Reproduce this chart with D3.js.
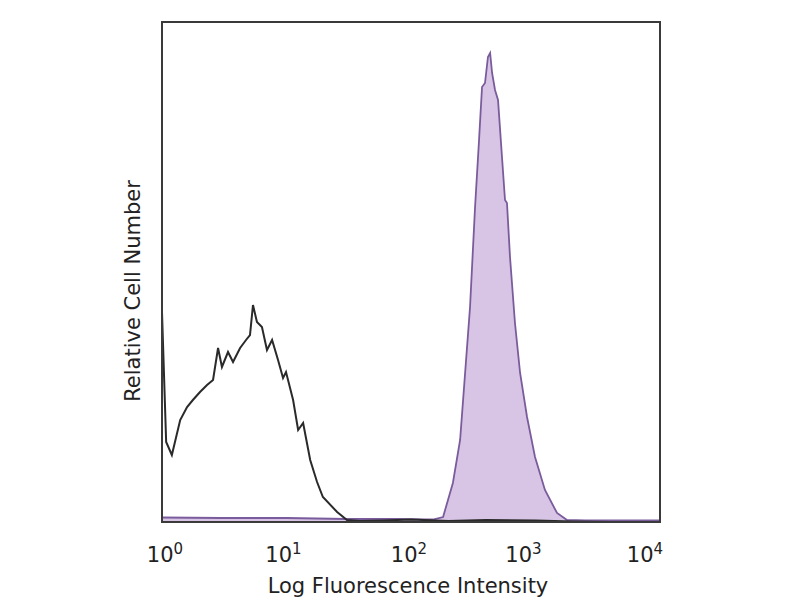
<!DOCTYPE html>
<html><head><meta charset="utf-8">
<script src="https://cdn.jsdelivr.net/npm/d3@7"></script>
<style>body{margin:0;background:#fff}</style>
</head><body><svg id="c" width="800" height="600"></svg>
<script>
// Isotype control histogram (black outline)
const controlIntensity = [1, 1.08, 1.20, 1.40, 1.59, 1.77, 2.02, 2.30, 2.57, 2.82, 3.03, 3.39, 3.72, 4.24, 4.73, 5.09, 5.38, 5.79, 6.35, 6.97, 7.66, 8.55, 9.38, 9.91, 11.3, 12.4, 13.6, 15.5, 17.6, 19.6, 25.5, 30.6, 38.9, 60, 100, 200, 400, 1000, 2000, 4000, 10000];
const controlCount     = [42, 16, 13.4, 20.4, 23, 24.4, 26, 27.4, 28.4, 34.8, 31, 34, 32, 34.8, 36.4, 37.4, 43.4, 40, 39, 34.4, 36.4, 32.4, 28.8, 30, 24.4, 18.4, 19.8, 12.4, 8, 5, 2, 0.4, 0.2, 0.3, 0.5, 0.2, 0.4, 0.3, 0.1, 0, 0];
// Stained histogram (filled purple)
const stainedIntensity = [1, 3, 10, 30, 80, 130, 150, 181, 217, 248, 272, 298, 327, 352, 372, 393, 415, 432, 448, 473, 500, 538, 569, 590, 624, 684, 752, 855, 991, 1191, 1489, 1791, 2500, 5000, 10000];
const stainedCount     = [0.9, 0.8, 0.8, 0.6, 0.6, 0.5, 0.5, 1, 7.8, 16.4, 29.8, 43, 63, 76.4, 87, 87.8, 93, 93.8, 89.8, 86.4, 84.4, 73, 64.4, 63.8, 53, 39.8, 29.8, 21, 13, 6.4, 1.8, 0.4, 0.3, 0.3, 0.3];
const tickExponents = [0, 1, 2, 3, 4];
const xTitle = "Log Fluorescence Intensity";
const yTitle = "Relative Cell Number";

const svg = d3.select("#c");
const L = 162, R = 660, T = 22, B = 522;
const x = d3.scaleLog().domain([1, 1e4]).range([L, R]);
const y = d3.scaleLinear().domain([0, 100]).range([B, T]);

const stained = stainedIntensity.map((v, i) => [v, stainedCount[i]]);
const control = controlIntensity.map((v, i) => [v, controlCount[i]]);

svg.append("path")
  .datum(stained)
  .attr("d", d3.area().x(d => x(d[0])).y0(B).y1(d => y(d[1])))
  .attr("fill", "#d8c5e5");
svg.append("path")
  .datum(stained)
  .attr("d", d3.line().x(d => x(d[0])).y(d => y(d[1])))
  .attr("fill", "none").attr("stroke", "#7a5c9c").attr("stroke-width", 1.8);
svg.append("path")
  .datum([[1, 0]].concat(control))
  .attr("d", d3.line().x(d => x(d[0])).y(d => y(d[1])))
  .attr("fill", "none").attr("stroke", "#2a2a2a").attr("stroke-width", 2);

svg.append("rect").attr("x", L).attr("y", T).attr("width", R - L).attr("height", B - T)
  .attr("fill", "none").attr("stroke", "#3a3a3a").attr("stroke-width", 2);

const font = "'DejaVu Sans', sans-serif";
const labelShift = [3, -3, -2, -12, -15];
tickExponents.forEach((e, i) => {
  const t = svg.append("text")
    .attr("x", x(Math.pow(10, e)) + labelShift[i])
    .attr("y", 562)
    .attr("text-anchor", "middle")
    .attr("font-family", font).attr("font-size", 21).attr("fill", "#222");
  t.append("tspan").text("10");
  t.append("tspan").attr("dy", -8).attr("font-size", 15).text(String(e));
});

svg.append("text").attr("x", 408).attr("y", 593).attr("text-anchor", "middle")
  .attr("font-family", font).attr("font-size", 21).attr("fill", "#222").text(xTitle);
svg.append("text").attr("transform", "translate(140,291) rotate(-90)").attr("text-anchor", "middle")
  .attr("font-family", font).attr("font-size", 21).attr("fill", "#222").text(yTitle);
</script></body></html>
